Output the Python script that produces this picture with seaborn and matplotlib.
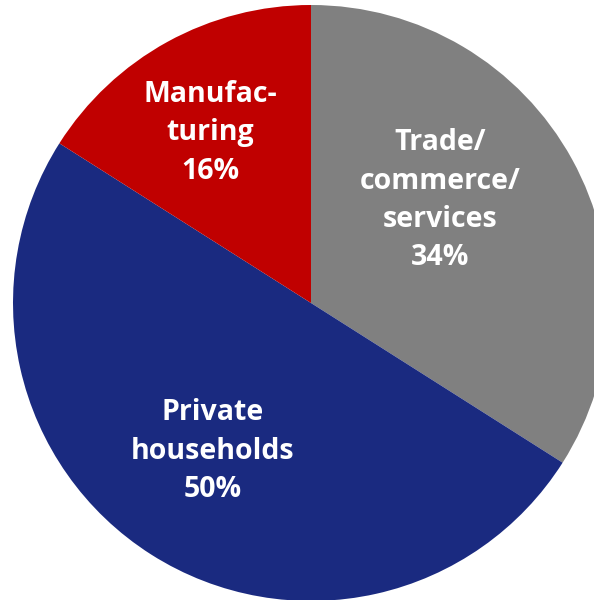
import matplotlib
matplotlib.use("Agg")
import matplotlib.pyplot as plt
import seaborn as sns

sns.set_theme(style="white")
plt.rcParams['font.family'] = ['Open Sans', 'DejaVu Sans']

categories = ["Trade/\ncommerce/\nservices", "Private\nhouseholds", "Manufac-\nturing"]
values = [34, 50, 16]
colors = ["#808080", "#1A2A80", "#C00000"]
# label anchor positions (fraction of radius, relative to pie centre)
label_pos = [(0.433, 0.345), (-0.329, -0.497), (-0.339, 0.571)]

fig = plt.figure(figsize=(5.94, 6.0), dpi=100)
R = 298
cx, cy = 311, 600 - 303
ax = fig.add_axes([(cx - R) / 594, (cy - R) / 600, 2 * R / 594, 2 * R / 600])
wedges, _ = ax.pie(values, colors=colors, startangle=90, counterclock=False,
                   radius=1.0, wedgeprops=dict(linewidth=0))
ax.set_xlim(-1, 1)
ax.set_ylim(-1, 1)
ax.set_aspect("equal")
ax.axis("off")

for cat, v, (x, y) in zip(categories, values, label_pos):
    ax.text(x, y, f"{cat}\n{v}%", ha="center", va="center", color="white",
            fontsize=20.5, fontweight="bold", linespacing=1.42)

fig.savefig("out.png", dpi=100)
